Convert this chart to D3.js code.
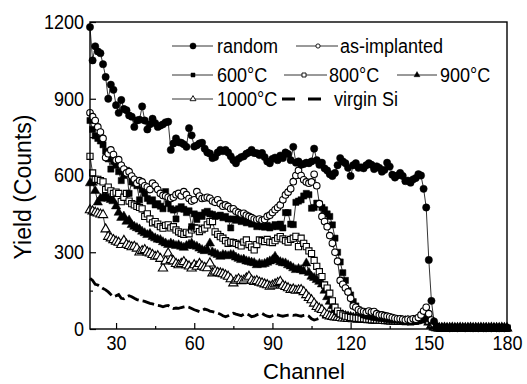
<!DOCTYPE html>
<html><head><meta charset="utf-8">
<script src="https://cdn.jsdelivr.net/npm/d3@7"></script>
<style>
html,body{margin:0;padding:0;background:#fff;}
svg{display:block;font-family:"Liberation Sans",Arial,Helvetica,sans-serif;}
</style></head>
<body>
<svg id="chart" width="527" height="384"></svg>
<script>
// ---------- data (channel 20..180, step 1) ----------
const channels = [20,21,22,23,24,25,26,27,28,29,30,31,32,33,34,35,36,37,38,39,40,41,42,43,44,45,46,47,48,49,50,51,52,53,54,55,56,57,58,59,60,61,62,63,64,65,66,67,68,69,70,71,72,73,74,75,76,77,78,79,80,81,82,83,84,85,86,87,88,89,90,91,92,93,94,95,96,97,98,99,100,101,102,103,104,105,106,107,108,109,110,111,112,113,114,115,116,117,118,119,120,121,122,123,124,125,126,127,128,129,130,131,132,133,134,135,136,137,138,139,140,141,142,143,144,145,146,147,148,149,150,151,152,153,154,155,156,157,158,159,160,161,162,163,164,165,166,167,168,169,170,171,172,173,174,175,176,177,178,179,180];

const randomY = [1180,1050,1105,1085,1078,1035,985,900,955,935,
875,845,895,860,855,835,830,790,815,818,
870,815,780,800,822,805,790,795,800,808,
810,700,725,745,730,728,722,712,785,757,
713,718,725,728,705,690,686,668,672,690,
700,695,700,690,675,660,648,665,672,675,
685,690,700,688,687,680,688,672,655,648,
665,670,660,678,668,690,684,660,712,650,
655,642,645,650,648,655,705,660,642,650,
628,620,605,598,610,640,668,655,648,630,
598,640,648,630,632,628,640,648,642,625,
636,630,615,622,650,635,603,592,600,610,
598,578,580,572,585,590,605,600,548,475,
270,110,30,8,5,4,5,4,3,4,
4,3,4,5,3,4,4,3,4,3,
4,3,3,4,3,4,3,3,4,3,
4];

const asImplantedY = [845,830,815,790,770,745,670,685,700,682,
660,662,640,625,610,615,598,585,570,580,
575,560,555,545,570,560,545,530,522,520,
515,510,515,525,530,520,537,525,510,500,
505,537,520,510,512,515,511,500,495,505,
490,480,485,479,470,470,460,455,450,452,
445,440,435,430,427,430,425,428,440,445,
455,466,475,485,505,524,535,548,576,600,
620,600,583,575,570,575,605,560,490,440,
420,400,365,335,300,265,190,175,160,145,
120,90,85,75,70,68,65,70,66,68,
60,55,55,52,50,48,45,42,40,40,
38,35,38,35,40,38,45,55,70,85,
60,35,20,10,6,5,4,5,4,3,
4,3,4,3,4,3,3,4,3,4,
3,4,3,3,4,3,3,4,3,3,
4];

const t600Y = [815,780,755,745,735,720,695,665,625,655,
640,615,580,600,620,530,575,570,560,505,
545,530,510,500,505,485,490,480,470,537,
490,470,465,430,470,478,468,455,462,400,
450,428,445,440,455,460,450,448,440,442,
445,435,440,430,395,430,425,430,420,428,
415,420,410,418,400,405,400,398,405,395,
400,408,400,410,395,455,455,410,408,495,
500,505,520,530,525,472,475,492,488,475,
466,450,440,407,355,300,262,220,190,150,
133,107,90,75,62,55,52,50,48,45,
45,42,42,40,38,38,36,35,35,34,
32,32,30,30,32,30,35,40,45,55,
40,25,12,6,4,4,3,4,3,4,
3,4,3,3,4,3,4,3,3,4,
3,3,4,3,3,4,3,3,4,3,
3];

const t800Y = [675,610,585,585,580,575,545,555,540,530,
535,530,498,515,530,500,490,485,479,475,
470,440,450,430,415,420,410,400,394,405,
407,395,400,387,380,374,370,378,372,387,
395,394,381,388,394,407,420,420,380,370,
361,355,345,335,340,338,335,330,325,340,
348,330,320,309,330,348,345,342,350,340,
338,345,355,361,352,345,340,350,355,362,
322,355,335,322,305,295,268,245,224,205,
172,160,140,110,85,70,60,55,50,48,
45,44,42,42,40,40,38,38,36,36,
35,35,34,33,33,32,32,31,30,30,
30,29,30,28,30,32,35,40,48,45,
30,18,8,5,4,3,4,3,3,4,
3,3,4,3,3,4,3,3,4,3,
3,4,3,3,3,4,3,3,3,4,
3];

const t900Y = [570,572,540,495,510,515,518,510,505,500,
480,455,435,440,420,425,407,400,395,390,
381,375,368,372,360,355,350,348,340,335,
329,335,330,325,328,322,318,325,330,335,
325,322,315,309,305,310,335,300,295,290,
283,290,288,285,290,289,280,275,270,272,
265,263,260,258,250,255,252,255,260,265,
270,283,268,262,258,257,250,245,238,231,
235,231,225,257,220,205,200,192,185,175,
150,125,107,90,75,65,58,55,52,50,
48,45,44,42,40,40,38,38,36,36,
35,35,34,34,33,33,32,32,31,31,
30,30,30,29,30,32,34,38,42,40,
28,15,7,4,3,4,3,3,4,3,
3,4,3,3,3,4,3,3,4,3,
3,3,4,3,3,3,4,3,3,3,
3];

const t1000Y = [465,460,455,452,448,446,390,361,355,348,
342,338,329,345,330,325,320,322,315,300,
305,309,300,296,290,283,285,275,237,265,
296,270,265,255,250,255,262,250,245,237,
250,244,255,245,240,238,257,218,225,220,
218,215,210,205,195,179,190,195,188,190,
198,205,190,185,188,182,179,175,172,166,
170,175,180,185,170,165,160,153,155,150,
152,153,145,133,122,113,100,87,80,75,
62,55,50,48,46,45,44,42,42,40,
40,39,38,38,37,36,36,35,35,34,
34,33,33,32,32,31,31,30,30,30,
29,29,30,28,30,31,34,38,42,38,
26,14,7,4,3,3,4,3,3,4,
3,3,4,3,3,3,4,3,3,3,
4,3,3,3,4,3,3,3,4,3,
3];

const virginY = [198,190,175,172,165,158,153,145,135,126,
130,135,120,118,125,130,126,120,115,112,
110,108,104,100,98,95,92,90,87,90,
92,85,80,82,81,84,86,88,85,80,
75,72,68,72,78,75,70,68,65,62,
58,52,48,52,58,62,58,55,52,58,
60,55,48,50,55,58,61,55,50,48,
52,57,55,52,50,52,54,55,53,55,
52,50,53,55,50,40,35,38,42,45,
48,46,44,45,43,42,42,41,40,41,
40,39,40,38,39,38,37,38,36,37,
36,35,36,35,34,35,34,33,34,33,
32,33,32,31,32,31,30,31,30,29,
20,10,5,3,3,2,3,2,3,2,
2,3,2,2,3,2,2,3,2,2,
2,3,2,2,2,3,2,2,3,2,
2];

const xTicks = [30,60,90,120,150,180];
const xMinor = [45,75,105,135,165];
const yTicks = [0,300,600,900,1200];
const yMinor = [150,450,750,1050];

const seriesNames = ["random","as-implanted","600°C","800°C","900°C","1000°C","virgin Si"];
const seriesValues = [randomY, asImplantedY, t600Y, t800Y, t900Y, t1000Y, virginY];
const seriesMarker = ["circleFilled","circleOpen","squareFilled","squareOpen","triFilled","triOpen","dash"];

// ---------- layout ----------
const svg = d3.select("#chart");
const L = 90, R = 507, T = 22, B = 329;
const x = d3.scaleLinear().domain([20,180]).range([L,R]);
const y = d3.scaleLinear().domain([0,1200]).range([B,T]);

function condense(sel, f){
  sel.each(function(){
    const len = this.getComputedTextLength();
    d3.select(this).attr("textLength", len*f).attr("lengthAdjust","spacingAndGlyphs");
  });
}

function markerPath(type, size){
  if(type.startsWith("circle")) return d3.symbol(d3.symbolCircle, size)();
  if(type.startsWith("square")) return d3.symbol(d3.symbolSquare, size)();
  if(type.startsWith("tri")) return d3.symbol(d3.symbolTriangle, size*0.75)();
  return null;
}
function isFilled(type){ return type.endsWith("Filled"); }

// ---------- series ----------
const line = d3.line().x((d,i)=>x(channels[i])).y(d=>y(d));
const plot = svg.append("g");
const order = [6,5,4,3,2,1,0];
order.forEach(si=>{
  const vals = seriesValues[si], type = seriesMarker[si];
  if(type === "dash"){
    plot.append("path").attr("d", line(vals)).attr("fill","none")
      .attr("stroke","#000").attr("stroke-width",2.8).attr("stroke-dasharray","12,4");
    return;
  }
  plot.append("path").attr("d", line(vals)).attr("fill","none")
    .attr("stroke","#000").attr("stroke-width",0.8);
  const sz = type.startsWith("circle") ? (isFilled(type)?42:34) : (type.startsWith("square")?38:50);
  plot.selectAll(null).data(vals).enter().append("path")
    .attr("d", markerPath(type, sz))
    .attr("transform",(d,i)=>`translate(${x(channels[i])},${y(d)})`)
    .attr("fill", isFilled(type)?"#000":"#fff")
    .attr("stroke","#000").attr("stroke-width", isFilled(type)?0.5:1.1);
});

// ---------- axes ----------
const fmt = d3.format("d");
const xAxis = svg.append("g").attr("transform",`translate(0,${B})`)
  .call(d3.axisBottom(x).tickValues(xTicks).tickFormat(fmt).tickSizeInner(-6).tickSizeOuter(0).tickPadding(7));
const xAxisMinor = svg.append("g").attr("transform",`translate(0,${B})`)
  .call(d3.axisBottom(x).tickValues(xMinor).tickSizeInner(-3).tickSizeOuter(0).tickFormat(""));
const yAxis = svg.append("g").attr("transform",`translate(${L},0)`)
  .call(d3.axisLeft(y).tickValues(yTicks).tickFormat(fmt).tickSizeInner(-6).tickSizeOuter(0).tickPadding(6));
const yAxisMinor = svg.append("g").attr("transform",`translate(${L},0)`)
  .call(d3.axisLeft(y).tickValues(yMinor).tickSizeInner(-3).tickSizeOuter(0).tickFormat(""));
[xAxis,xAxisMinor,yAxis,yAxisMinor].forEach(g=>{
  g.select(".domain").remove();
  g.selectAll("line").attr("stroke","#000").attr("stroke-width",1.2);
  g.attr("font-family",null).attr("font-size",null);
});
xAxis.selectAll("text").attr("font-size",20).attr("fill","#000");
yAxis.selectAll("text").attr("font-size",20).attr("fill","#000");
condense(xAxis.selectAll("text"),0.9);
condense(yAxis.selectAll("text"),0.9);

svg.append("rect").attr("x",L).attr("y",T).attr("width",R-L).attr("height",B-T)
  .attr("fill","none").attr("stroke","#000").attr("stroke-width",1.4);

// ---------- axis titles ----------
svg.append("text").attr("x",304).attr("y",379).attr("text-anchor","middle")
  .attr("font-size",22).text("Channel");
svg.append("text").attr("transform","translate(31,187) rotate(-90)").attr("text-anchor","middle")
  .attr("font-size",23).text("Yield (Counts)");

// ---------- legend ----------
const legendItems = [
  {i:0, x0:172, x1:213, m:193, tx:217, ty:46},
  {i:1, x0:296, x1:338, m:318, tx:340, ty:46},
  {i:2, x0:172, x1:213, m:193, tx:217, ty:75},
  {i:3, x0:284, x1:327, m:304, tx:329, ty:75},
  {i:4, x0:397, x1:437, m:417, tx:440, ty:75},
  {i:5, x0:172, x1:213, m:193, tx:217, ty:99},
  {i:6, x0:282, x1:321, m:null, tx:334, ty:99}
];
const leg = svg.append("g");
legendItems.forEach(it=>{
  const type = seriesMarker[it.i];
  if(type === "dash"){
    leg.append("line").attr("x1",it.x0).attr("x2",it.x1).attr("y1",it.ty).attr("y2",it.ty)
      .attr("stroke","#000").attr("stroke-width",3).attr("stroke-dasharray","13,13");
  } else {
    leg.append("line").attr("x1",it.x0).attr("x2",it.x1).attr("y1",it.ty).attr("y2",it.ty)
      .attr("stroke","#000").attr("stroke-width",0.8);
    const sz = type.startsWith("circle") ? (isFilled(type)?30:14) : (type.startsWith("square")?16:20);
    leg.append("path").attr("d", markerPath(type, sz))
      .attr("transform",`translate(${it.m},${it.ty})`)
      .attr("fill", isFilled(type)?"#000":"#fff").attr("stroke","#000").attr("stroke-width",isFilled(type)?0.5:0.9);
  }
  leg.append("text").attr("x",it.tx).attr("y",it.ty).attr("dy","0.36em")
    .attr("font-size",20).text(seriesNames[it.i]);
});
condense(leg.selectAll("text"),0.9);
</script>
</body></html>
